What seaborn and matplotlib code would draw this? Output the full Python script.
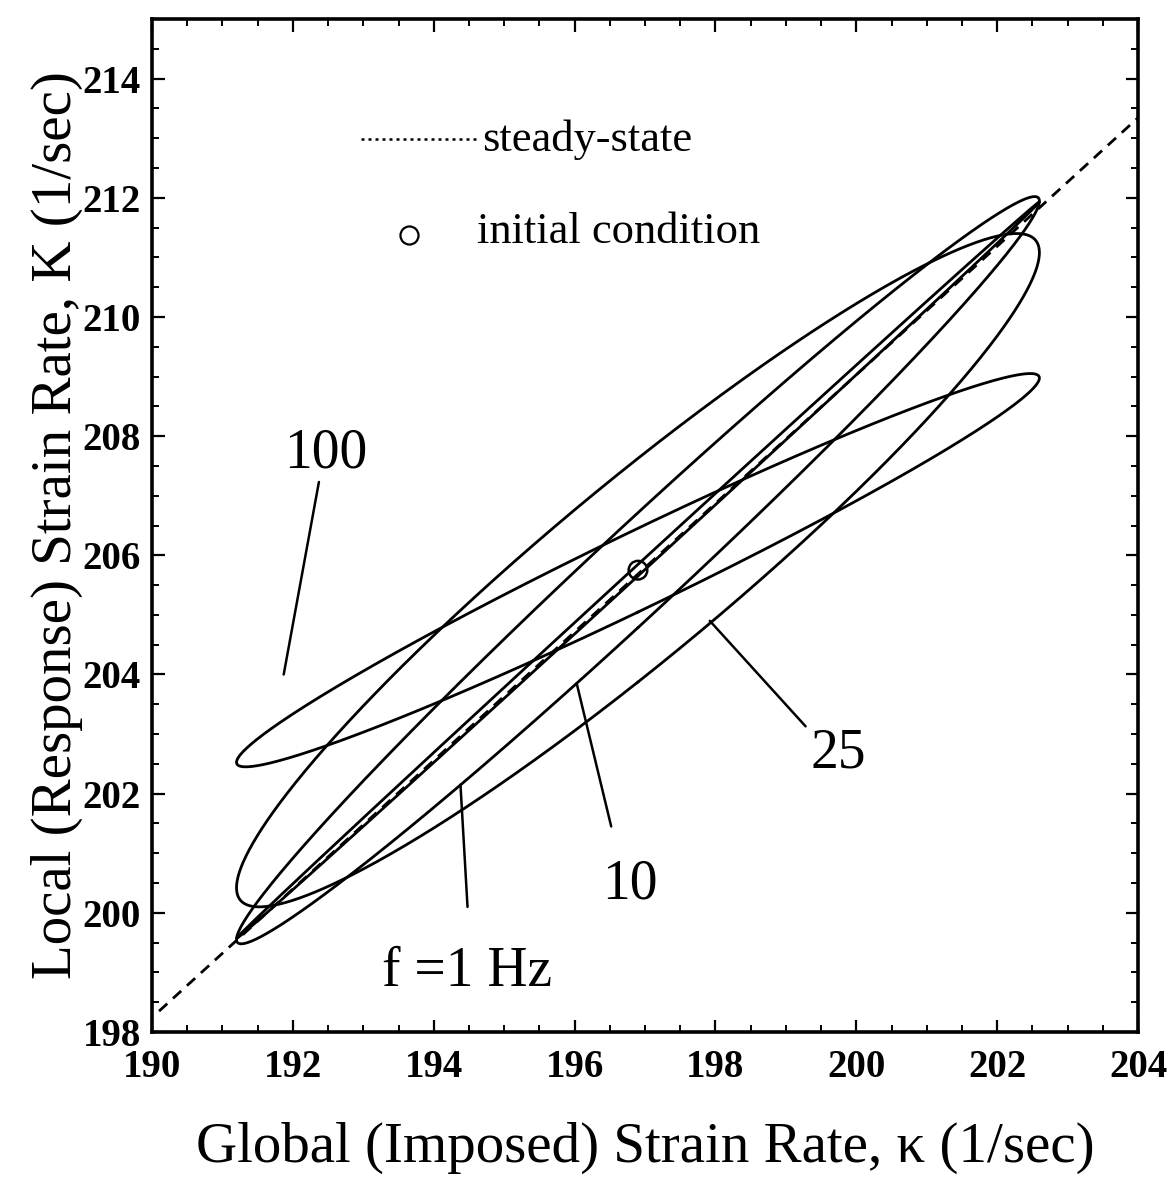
import numpy as np
import pandas as pd
import matplotlib
matplotlib.use("Agg")
import matplotlib.pyplot as plt
from matplotlib.ticker import MultipleLocator
import seaborn as sns

# ---------------- data ----------------
freq_hz = [1, 10, 25, 100]                 # forcing frequency of each loop
kappa_mean = 196.9                          # centre of imposed strain rate
kappa_amp = 5.7                             # amplitude of imposed strain rate
K_mean = 205.75                             # centre of response strain rate
K_amp = [6.18, 6.27, 5.65, 3.30]            # response amplitude per frequency
phase_lag_deg = [0.9, 8.85, 19.4, 12.3]     # response phase lag per frequency

steady_kappa = [190.1, 204.1]               # steady-state line
steady_K = [198.35, 213.45]

initial_kappa = [196.9]                     # initial condition
initial_K = [205.75]

x_ticks = [190, 192, 194, 196, 198, 200, 202, 204]
y_ticks = [198, 200, 202, 204, 206, 208, 210, 212, 214]

# label texts and their anchor / pointer end points (data coords)
label_text = ["100", "f =1 Hz", "10", "25"]
label_kappa = [192.47, 194.48, 196.79, 199.74]
label_K = [207.7, 199.0, 200.48, 202.67]
ptr_start_kappa = [192.37, 194.48, 196.52, 199.28]
ptr_start_K = [207.23, 200.10, 201.45, 203.13]
ptr_end_kappa = [191.87, 194.38, 196.03, 197.92]
ptr_end_K = [204.0, 202.15, 203.85, 204.90]

# ---------------- build loop table ----------------
theta = np.linspace(0, 2 * np.pi, 721)
rows = []
for f, b, ph in zip(freq_hz, K_amp, phase_lag_deg):
    kap = kappa_mean + kappa_amp * np.sin(theta)
    KK = K_mean + b * np.sin(theta - np.deg2rad(ph))
    rows.append(pd.DataFrame({"kappa": kap, "K": KK, "freq": f}))
loops = pd.concat(rows, ignore_index=True)
steady = pd.DataFrame({"kappa": steady_kappa, "K": steady_K})
init = pd.DataFrame({"kappa": initial_kappa, "K": initial_K})

# ---------------- figure ----------------
sns.set_theme(style="ticks")
plt.rcParams["font.family"] = ["Liberation Serif", "DejaVu Serif"]
for key in ["text.color", "axes.labelcolor", "xtick.color", "ytick.color", "axes.edgecolor"]:
    plt.rcParams[key] = "black"

fig = plt.figure(figsize=(11.70, 11.97), dpi=100)
ax = fig.add_axes([152 / 1170, 1 - 1032 / 1197, (1138 - 152) / 1170, (1032 - 19) / 1197])

sns.lineplot(data=loops, x="kappa", y="K", units="freq", estimator=None, sort=False,
             ax=ax, color="black", lw=2.0, legend=False)
sns.lineplot(data=steady, x="kappa", y="K", ax=ax, color="black", lw=2.0,
             linestyle=(0, (4.0, 2.8)), legend=False, zorder=4)
sns.scatterplot(data=init, x="kappa", y="K", ax=ax, s=180, facecolor="none",
                edgecolor="black", linewidth=1.8, zorder=5, legend=False)

ax.set_xlim(190, 204)
ax.set_ylim(198, 215)
ax.set_xticks(x_ticks)
ax.set_yticks(y_ticks)
ax.xaxis.set_minor_locator(MultipleLocator(0.5))
ax.yaxis.set_minor_locator(MultipleLocator(0.5))
ax.tick_params(which="both", direction="in", top=True, right=True, color="black")
ax.tick_params(which="major", length=9, width=1.6, labelsize=28)
ax.tick_params(which="minor", length=5, width=1.4)
ax.tick_params(axis="x", which="major", pad=12)
ax.tick_params(axis="y", which="major", pad=8)
for lab in ax.get_xticklabels() + ax.get_yticklabels():
    lab.set_fontweight("bold")
for sp in ax.spines.values():
    sp.set_linewidth(2.6)
    sp.set_color("black")

ax.set_xlabel("Global (Imposed) Strain Rate, \u03ba (1/sec)", fontsize=41, labelpad=26)
ax.set_ylabel("Local (Response) Strain Rate, K (1/sec)", fontsize=41, labelpad=0)

# in-plot legend
ax.plot([0.212, 0.330], [0.882, 0.882], transform=ax.transAxes, color="black",
        lw=1.8, linestyle=(0, (1.2, 1.6)))
ax.text(0.335, 0.881, "steady-state", transform=ax.transAxes, fontsize=32,
        va="center", ha="left")
ax.plot([0.261], [0.787], transform=ax.transAxes, marker="o", ms=13,
        mfc="none", mec="black", mew=1.6)
ax.text(0.330, 0.790, "initial condition", transform=ax.transAxes, fontsize=32,
        va="center", ha="left")

# frequency labels with pointer lines
for t, lk, lK, sk, sK, ek, eK in zip(label_text, label_kappa, label_K,
                                     ptr_start_kappa, ptr_start_K,
                                     ptr_end_kappa, ptr_end_K):
    ax.text(lk, lK, t, fontsize=40, ha="center", va="center")
    ax.plot([sk, ek], [sK, eK], color="black", lw=1.8)

fig.savefig("out.png", dpi=100, facecolor="white")
